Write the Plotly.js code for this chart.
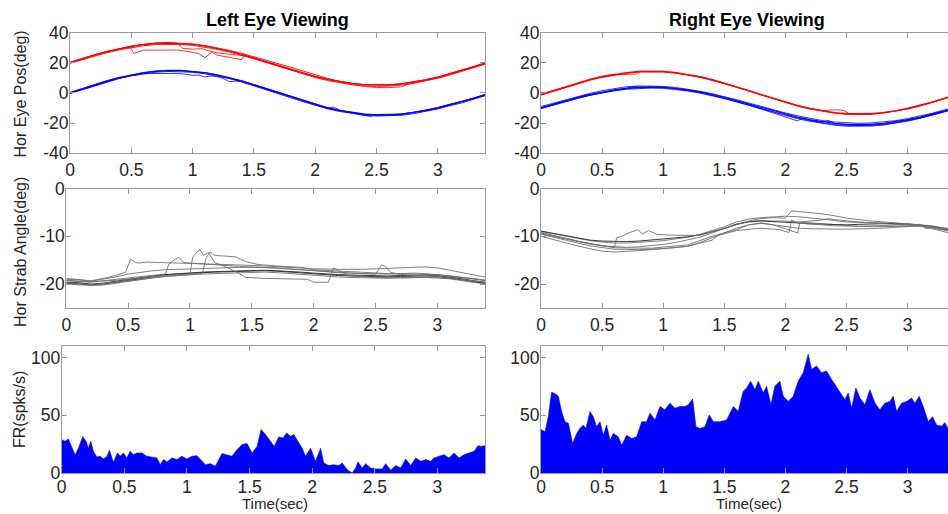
<!DOCTYPE html>
<html><head><meta charset="utf-8">
<script src="https://cdn.plot.ly/plotly-3.0.1.min.js"></script>
<style>html,body{margin:0;padding:0;overflow:hidden;background:#fff}#chart{width:960px;height:514px}</style>
</head><body><div id="chart"></div><script>
// ---------------- data ----------------
const T = [0,0.1,0.2,0.3,0.4,0.5,0.6,0.7,0.8,0.9,1.0,1.1,1.2,1.3,1.4,1.5,1.6,1.7,1.8,1.9,2.0,2.1,2.2,2.3,2.4,2.5,2.6,2.7,2.8,2.9,3.0,3.1,3.2,3.3,3.4];

const xTickVals = [0,0.5,1,1.5,2,2.5,3];
const xTickText = ['0','0.5','1','1.5','2','2.5','3'];
const posTickVals = [-40,-20,0,20,40];
const posTickText = ['-40','-20','0','20','40'];
const strabTickVals = [-20,-10,0];
const strabTickText = ['-20','-10','0'];
const frTickVals = [0,50,100];
const frTickText = ['0','50','100'];

const panelTitles = ['Left Eye Viewing','Right Eye Viewing'];
const yTitles = ['Hor Eye Pos(deg)','Hor Strab Angle(deg)','FR(spks/s)'];
const xTitle = 'Time(sec)';

// Top-left: eye position, left eye viewing
const TL_red1 = [20.0,22.6,25.0,27.2,29.1,30.7,31.9,32.7,33.0,32.8,32.2,31.0,29.5,27.7,25.5,23.1,20.6,18.0,15.4,13.0,10.8,8.9,7.3,6.1,5.3,5.0,5.2,5.8,7.0,8.5,10.3,12.5,14.9,17.4,20.0];
const TL_red2 = [19.6,22.0,24.4,26.6,28.5,30.0,31.2,32.0,32.3,32.1,31.5,30.4,28.9,27.1,25.0,22.6,20.1,17.5,14.9,12.5,10.2,8.2,6.6,5.4,4.6,4.3,4.5,5.1,6.3,7.8,9.7,11.9,14.3,16.8,19.4];
const TL_red3 = [20.3,22.9,25.3,27.5,29.4,31.0,32.2,33.0,33.3,33.1,32.5,31.4,30.0,28.2,26.2,24.0,21.8,19.5,17.0,14.5,12.0,9.6,7.6,6.3,5.5,5.2,5.4,6.0,7.2,8.7,10.5,12.7,15.1,17.6,20.2];
const TL_red4_t = [0,0.1,0.2,0.3,0.4,0.49,0.52,0.6,0.7,0.8,0.87,0.95,1.0,1.05,1.1,1.16,1.2,1.3,1.4,1.42,1.5,1.6,1.7,1.8,1.9,2.0,2.1,2.2,2.3,2.4,2.5,2.6,2.7,2.8,2.9,3.0,3.1,3.2,3.3,3.4];
const TL_red4 = [19.9,22.5,24.9,27.1,29.0,30.6,26.2,28.3,28.3,28.4,28.4,27.6,27.0,26.0,23.3,27.0,25.0,23.6,22.0,25.0,22.9,20.4,17.8,15.2,12.8,10.6,8.7,7.1,5.9,4.2,3.6,3.5,4.0,6.8,8.3,10.1,12.3,14.7,17.2,19.8];
const TL_red5_t = [0,0.1,0.2,0.3,0.4,0.5,0.6,0.7,0.8,0.87,0.92,1.0,1.08,1.12,1.2,1.3,1.38,1.45,1.5,1.6,1.7,1.8,1.9,2.0,2.1,2.2,2.3,2.4,2.5,2.6,2.7,2.8,2.9,3.0,3.1,3.2,3.3,3.4];
const TL_red5 = [20.2,22.8,25.2,27.4,29.3,30.9,32.1,32.9,33.2,33.1,29.5,29.0,29.3,28.0,26.5,25.8,25.0,24.3,23.3,20.8,18.2,15.6,13.2,11.0,9.1,7.5,6.3,5.5,5.2,5.4,6.0,7.2,8.7,10.5,12.7,15.1,17.6,20.2];
const TL_blue1 = [0,2.7,5.3,7.8,10.0,11.8,13.2,14.2,14.7,14.7,14.2,13.2,11.8,10.0,7.8,5.3,2.7,0,-2.7,-5.3,-7.8,-10.0,-11.8,-13.2,-14.2,-14.7,-14.7,-14.2,-13.2,-11.8,-10.0,-7.8,-6.0,-3.5,-1.0];
const TL_blue2 = [-0.4,2.2,4.8,7.3,9.5,11.3,12.7,13.7,14.2,14.2,13.7,12.7,11.3,9.5,7.3,4.8,2.2,-0.5,-3.2,-5.8,-8.3,-10.5,-12.3,-13.8,-14.8,-15.3,-15.3,-14.8,-13.8,-12.4,-10.6,-8.4,-6.5,-4.0,-1.5];
const TL_blue3 = [0.3,3.0,5.6,8.1,10.3,12.1,13.5,14.5,15.0,15.0,14.5,13.5,12.1,10.3,8.1,5.6,3.0,0.3,-2.4,-5.0,-7.5,-9.7,-11.5,-12.9,-13.9,-14.4,-14.4,-13.9,-12.9,-11.5,-9.7,-7.5,-5.7,-3.2,-0.7];
const TL_blue4_t = [0,0.1,0.2,0.3,0.4,0.5,0.52,0.6,0.7,0.8,0.87,0.95,1.0,1.05,1.1,1.15,1.2,1.25,1.3,1.35,1.4,1.5,1.6,1.7,1.8,1.9,2.0,2.1,2.15,2.2,2.3,2.4,2.45,2.5,2.6,2.7,2.8,2.9,3.0,3.1,3.2,3.3,3.4];
const TL_blue4 = [-0.2,2.4,5.0,7.5,9.7,11.5,11.6,12.8,12.9,12.9,12.9,12.3,11.6,11.8,10.6,11.2,10.8,9.5,7.4,7.8,7.5,5.0,2.4,-0.3,-3.0,-5.6,-8.1,-10.3,-9.4,-11.5,-13.3,-15.1,-15.6,-14.5,-14.6,-14.0,-13.0,-11.6,-9.8,-7.6,-5.8,-3.3,-0.8];

// Top-right: eye position, right eye viewing
const TR_red1 = [-1.1,1.5,4.1,6.5,8.8,10.7,12.3,13.4,14.2,14.4,14.2,13.4,12.3,10.7,8.8,6.5,4.1,1.5,-1.1,-3.7,-6.1,-8.4,-10.3,-11.9,-13.0,-13.8,-14.0,-13.8,-13.0,-11.9,-10.3,-8.4,-6.1,-3.7,-1.1];
const TR_red2 = [-1.5,1.1,3.7,6.1,8.4,10.3,11.9,13.0,13.8,14.0,13.8,13.0,11.9,10.3,8.4,6.1,3.7,1.1,-1.5,-4.1,-6.5,-8.8,-10.7,-12.3,-13.4,-14.2,-14.4,-14.2,-13.4,-12.3,-10.7,-8.8,-6.5,-4.1,-1.5];
const TR_red3_t = [0,0.1,0.2,0.3,0.4,0.5,0.6,0.63,0.7,0.78,0.82,0.9,1.0,1.1,1.2,1.3,1.4,1.5,1.6,1.7,1.8,1.9,2.0,2.1,2.2,2.3,2.36,2.42,2.48,2.52,2.6,2.7,2.8,2.9,3.0,3.1,3.2,3.3,3.4];
const TR_red3 = [-0.8,1.8,4.4,6.8,9.1,11.0,12.5,12.0,12.2,12.5,14.3,14.5,14.3,13.5,12.4,10.8,8.9,6.6,4.2,1.6,-1.0,-3.6,-6.0,-8.3,-10.2,-11.8,-11.4,-11.2,-11.6,-13.7,-14.0,-13.8,-13.0,-11.9,-10.3,-8.4,-6.1,-3.7,-1.0];
const TR_blue1 = [-9.7,-7.3,-5.1,-2.9,-1.0,0.7,2.1,3.2,3.8,4.0,3.8,3.2,2.1,0.7,-1.0,-2.9,-5.1,-7.3,-9.7,-11.9,-14.1,-16.0,-17.7,-19.1,-20.2,-20.8,-21.0,-20.8,-20.2,-19.1,-17.7,-16.0,-14.1,-11.9,-9.7];
const TR_blue2 = [-9.0,-6.7,-4.5,-2.3,-0.3,1.5,3.0,4.1,4.6,4.6,4.3,3.6,2.5,1.1,-0.5,-2.4,-4.5,-6.7,-9.0,-11.2,-13.3,-15.2,-16.9,-18.3,-19.3,-19.9,-20.1,-19.9,-19.4,-18.4,-17.0,-15.4,-13.5,-11.3,-9.0];
const TR_blue3 = [-10.4,-8.0,-5.8,-3.6,-1.7,0.0,1.4,2.4,3.0,3.2,3.0,2.4,1.3,-0.1,-1.8,-3.8,-6.0,-8.3,-10.7,-13.0,-15.2,-17.1,-18.8,-20.3,-21.4,-22.1,-22.3,-22.0,-21.3,-20.2,-18.7,-16.9,-14.9,-12.6,-10.3];
const TR_blue4_t = [0,0.1,0.2,0.3,0.4,0.5,0.6,0.7,0.75,0.8,0.9,1.0,1.1,1.2,1.3,1.4,1.5,1.6,1.7,1.8,1.9,2.0,2.1,2.14,2.2,2.3,2.35,2.4,2.5,2.6,2.7,2.8,2.9,3.0,3.1,3.2,3.3,3.4];
const TR_blue4 = [-9.9,-7.6,-5.4,-3.3,-1.4,0.3,1.7,2.9,4.2,4.0,3.9,3.6,2.8,1.7,0.2,-1.6,-3.5,-5.7,-8.0,-10.6,-13.3,-15.8,-18.6,-16.5,-18.0,-19.4,-18.2,-20.0,-21.2,-21.6,-21.4,-20.7,-19.6,-18.2,-16.6,-14.7,-12.5,-10.2];
const TR_blue5 = [-10.2,-7.9,-5.6,-3.5,-1.5,0.2,1.7,2.8,3.4,3.6,3.5,2.9,1.8,0.3,-1.4,-3.4,-5.6,-7.9,-10.3,-12.6,-14.8,-16.7,-18.4,-19.8,-20.9,-21.6,-21.8,-21.6,-21.0,-19.9,-18.4,-16.6,-14.6,-12.4,-10.1];

// Middle-left: strabismus angle, left eye viewing
const ML1 = [-20.0,-20.1,-20.3,-20.2,-19.8,-19.4,-19.0,-18.7,-18.4,-18.2,-18.0,-17.9,-17.8,-17.7,-17.6,-17.5,-17.5,-17.6,-17.8,-18.0,-18.2,-18.4,-18.5,-18.6,-18.7,-18.8,-18.8,-18.7,-18.6,-18.6,-18.7,-18.9,-19.3,-19.6,-20.0];
const ML2 = [-19.6,-19.7,-20.0,-19.8,-19.4,-19.0,-18.6,-18.3,-18.0,-17.8,-17.6,-17.5,-17.4,-17.3,-17.2,-17.1,-17.1,-17.2,-17.3,-17.5,-17.7,-17.9,-18.0,-18.1,-18.2,-18.3,-18.3,-18.2,-18.1,-18.1,-18.2,-18.5,-18.9,-19.3,-19.7];
const ML3 = [-19.0,-19.1,-19.4,-19.0,-18.5,-17.9,-17.5,-17.2,-17.0,-16.9,-16.8,-16.8,-16.7,-16.6,-16.5,-16.5,-16.5,-16.6,-16.8,-17.0,-17.2,-17.4,-17.6,-17.7,-17.8,-17.9,-17.9,-17.8,-17.7,-17.8,-18.0,-18.3,-18.6,-19.0,-19.3];
const ML4 = [-19.8,-19.9,-20.1,-20.0,-19.6,-19.2,-18.8,-18.4,-18.1,-17.9,-17.7,-17.6,-17.5,-17.4,-17.3,-17.2,-17.2,-17.3,-17.5,-17.7,-17.9,-18.1,-18.2,-18.3,-18.4,-18.5,-18.5,-18.4,-18.3,-18.3,-18.4,-18.7,-19.1,-19.5,-19.9];
const MLG1_t = [0,0.1,0.2,0.3,0.4,0.48,0.52,0.55,0.58,0.65,0.8,1.0,1.2,1.4,1.6,1.8,2.0,2.2,2.4,2.6,2.8,2.9,3.0,3.2,3.4];
const MLG1 = [-18.8,-19.0,-19.3,-18.8,-18.2,-17.5,-14.8,-15.3,-15.6,-15.4,-15.5,-15.6,-15.8,-16.0,-16.2,-16.5,-16.8,-16.9,-16.9,-16.7,-16.4,-16.4,-16.6,-17.6,-18.6];
const MLG2_t = [0,0.2,0.4,0.6,0.8,0.83,0.88,0.91,0.95,1.0,1.1,1.2,1.4,1.6,1.8,2.0,2.15,2.2,2.4,2.5,2.55,2.58,2.62,2.7,2.9,3.1,3.3,3.4];
const MLG2 = [-19.3,-19.6,-19.0,-18.4,-17.9,-15.8,-14.8,-14.4,-15.5,-15.6,-15.8,-16.0,-16.3,-16.5,-16.8,-17.2,-17.5,-17.6,-17.8,-17.9,-16.0,-16.3,-17.5,-18.0,-18.3,-18.4,-18.9,-19.3];
const MLG3_t = [0,0.2,0.4,0.6,0.8,1.0,1.02,1.05,1.08,1.11,1.15,1.2,1.3,1.4,1.45,1.6,1.8,1.95,2.0,2.12,2.16,2.2,2.3,2.5,2.7,2.9,3.1,3.3,3.4];
const MLG3 = [-19.8,-20.1,-19.6,-19.0,-18.4,-18.0,-14.5,-13.5,-12.7,-14.0,-13.4,-15.5,-16.5,-17.8,-18.6,-18.8,-18.9,-19.0,-19.6,-19.6,-16.6,-17.2,-18.3,-18.6,-18.7,-18.6,-18.8,-19.3,-19.6];
const MLG4_t = [0,0.2,0.4,0.6,0.8,1.0,1.1,1.13,1.16,1.2,1.3,1.37,1.45,1.55,1.7,1.9,2.0,2.2,2.4,2.6,2.8,3.0,3.2,3.4];
const MLG4 = [-19.2,-19.5,-19.2,-18.7,-18.2,-17.9,-17.8,-14.6,-13.3,-14.0,-14.2,-14.3,-15.3,-15.9,-16.2,-16.5,-17.0,-17.3,-17.6,-17.8,-17.9,-18.0,-18.6,-19.2];

// Middle-right: strabismus angle, right eye viewing
const MR1 = [-9.0,-9.5,-10.0,-10.5,-10.9,-11.2,-11.4,-11.4,-11.3,-11.1,-10.9,-10.6,-10.2,-9.6,-8.8,-8.0,-7.0,-6.4,-6.1,-6.0,-5.8,-5.9,-6.1,-6.4,-6.7,-7.0,-7.1,-7.1,-7.2,-7.4,-7.6,-7.8,-8.1,-8.5,-8.9];
const MR2 = [-9.3,-9.9,-10.5,-11.1,-11.6,-12.0,-12.2,-12.3,-12.2,-12.0,-11.7,-11.3,-10.8,-10.2,-9.3,-8.4,-7.4,-6.9,-6.7,-6.8,-6.8,-7.0,-7.2,-7.4,-7.6,-7.8,-7.9,-8.0,-8.0,-8.0,-7.9,-7.8,-8.2,-8.7,-9.2];
const MR3 = [-10.0,-10.7,-11.4,-12.0,-12.6,-13.1,-13.3,-13.2,-13.0,-12.8,-12.6,-12.4,-12.1,-11.3,-10.3,-9.3,-8.3,-7.6,-7.3,-7.6,-8.0,-8.3,-8.4,-8.5,-8.5,-8.5,-8.5,-8.4,-8.3,-8.1,-7.9,-7.8,-8.4,-9.1,-9.7];
const MR4 = [-8.9,-9.4,-9.9,-10.4,-10.8,-11.0,-11.1,-11.1,-11.0,-10.8,-10.6,-10.4,-10.1,-9.7,-9.1,-8.4,-7.5,-7.0,-6.8,-6.9,-7.0,-7.2,-7.4,-7.5,-7.6,-7.6,-7.5,-7.4,-7.3,-7.3,-7.4,-7.6,-7.9,-8.3,-8.6];
const MRG1_t = [0,0.2,0.4,0.55,0.6,0.62,0.66,0.7,0.75,0.79,0.83,0.88,0.95,1.1,1.3,1.4,1.5,1.6,1.7,1.8,1.9,2.0,2.05,2.1,2.2,2.3,2.4,2.5,2.7,2.9,3.1,3.2,3.4];
const MRG1 = [-9.5,-10.6,-11.6,-12.1,-12.3,-10.3,-10.0,-9.5,-9.0,-8.6,-9.5,-8.8,-9.6,-9.8,-9.8,-9.0,-8.3,-7.6,-6.8,-6.3,-6.1,-6.2,-4.7,-4.8,-5.0,-5.3,-5.7,-6.2,-6.8,-7.2,-7.5,-7.8,-8.8];
const MRG2_t = [0,0.2,0.4,0.6,0.8,1.0,1.2,1.4,1.45,1.5,1.6,1.8,1.95,2.03,2.05,2.1,2.2,2.4,2.6,2.8,3.0,3.1,3.15,3.2,3.4];
const MRG2 = [-9.6,-10.8,-12.0,-12.7,-12.8,-12.6,-12.1,-10.8,-9.8,-9.5,-8.8,-8.3,-8.6,-9.2,-6.6,-7.2,-7.4,-7.8,-7.9,-7.8,-7.6,-7.5,-8.4,-8.2,-9.0];
const MRG3_t = [0,0.3,0.6,0.9,1.2,1.4,1.6,1.7,1.8,1.9,2.0,2.1,2.12,2.2,2.3,2.35,2.4,2.6,2.8,3.0,3.1,3.2,3.4];
const MRG3 = [-9.2,-11.0,-12.4,-12.5,-11.8,-10.0,-8.6,-7.6,-7.2,-7.6,-8.4,-9.3,-7.0,-6.8,-6.6,-6.3,-6.5,-7.0,-7.3,-7.6,-7.8,-8.0,-9.3];

// Bottom: firing rate
const FRL_t = [0,0.027,0.053,0.08,0.107,0.133,0.168,0.195,0.213,0.232,0.253,0.28,0.307,0.333,0.36,0.381,0.413,0.445,0.467,0.493,0.52,0.547,0.573,0.6,0.64,0.68,0.72,0.76,0.787,0.813,0.84,0.88,0.92,0.96,1.0,1.04,1.08,1.12,1.147,1.187,1.227,1.28,1.32,1.36,1.4,1.44,1.48,1.52,1.56,1.592,1.627,1.667,1.698,1.733,1.768,1.795,1.827,1.853,1.893,1.92,1.947,1.987,2.027,2.067,2.093,2.133,2.173,2.213,2.24,2.28,2.32,2.347,2.365,2.4,2.427,2.467,2.507,2.56,2.587,2.627,2.667,2.707,2.747,2.787,2.827,2.867,2.907,2.947,2.973,3.013,3.053,3.093,3.133,3.173,3.213,3.253,3.293,3.325,3.347,3.4];
const FRL = [28.9,27.5,29.5,23,15.6,21.4,31.5,27.5,21.4,27.5,18.8,13.9,14.5,12.4,14,19.7,9.2,17.3,14.5,17.3,13,18.8,15.9,17.3,17.3,14.5,13.6,13,7.2,11.6,9.6,13,11.6,14.5,12.1,14.5,15,10.1,7.2,8.1,5.8,16.8,15.9,14.5,20.2,24.6,25.5,17.3,23,37.6,33.3,27.5,23,31.2,30.4,34.7,31.8,33.3,26,21.4,14.5,21.4,10.1,21.4,8.7,6.4,7.2,6.4,8.7,2.9,0,4.3,9.6,4.3,8.1,4.3,3.5,3.5,8.1,2.3,6.4,4.3,12.1,6.4,13,10.1,11.6,10.1,13,14.5,15.9,13,17.3,13,15.9,17.3,18.8,23.7,23,24];
const FRR_t = [0,0.033,0.06,0.087,0.115,0.142,0.169,0.196,0.224,0.259,0.292,0.319,0.346,0.368,0.401,0.428,0.455,0.483,0.51,0.537,0.565,0.592,0.633,0.66,0.701,0.742,0.783,0.824,0.864,0.892,0.933,0.974,1.014,1.055,1.096,1.137,1.178,1.205,1.241,1.268,1.301,1.342,1.377,1.41,1.464,1.519,1.574,1.614,1.655,1.683,1.715,1.751,1.778,1.819,1.846,1.882,1.914,1.955,1.983,2.023,2.064,2.105,2.146,2.187,2.214,2.255,2.296,2.337,2.378,2.405,2.446,2.487,2.514,2.542,2.577,2.61,2.651,2.692,2.733,2.773,2.814,2.855,2.883,2.91,2.951,2.992,3.032,3.06,3.095,3.128,3.169,3.204,3.237,3.278,3.305,3.33,3.373,3.4];
const FRR = [37.7,35.7,48.8,69.9,68.7,66.4,53.2,44.4,43,25.4,34.2,38.6,41.5,38.6,53.2,48.8,40,44.4,32.7,41.5,28.4,34.2,31.3,24,32.7,29.8,31.3,44.4,44.4,51.8,45.9,57.6,54.7,60.5,56.1,57.6,57.6,59.1,64,40,38.6,40,50.3,44.4,44.4,45.9,57.6,53.2,70.8,73.7,79.5,72.2,79.5,69.3,75.1,59.1,75.1,79.5,66.4,62,66.4,79.5,86.8,102.9,89.8,92.7,86.8,88.3,81,76.6,70.8,63.5,69.3,56.1,73.7,64.9,59.1,72.2,60.5,54.7,60.5,62,66.4,53.2,60.5,62,64.9,60.5,66.4,57.6,44.4,48.8,41.5,40.6,43.6,38.6,41,40];

// ---------------- drawing ----------------
const W = 960, H = 514;
const fx = p => p / W;
const fy = p => (H - p) / H;
const FONT = 'Arial, "Liberation Sans", Helvetica, sans-serif';
const RED = '#ff0000', BLUE = '#0000ff', GRAY = '#707070', DARK = '#3a3a3a';

const traces = [];
function line(x, y, n, color, width) {
  const s = n === 1 ? '' : String(n);
  traces.push({type:'scatter', mode:'lines', x:x, y:y, xaxis:'x'+s, yaxis:'y'+s,
    line:{color:color, width:width}, hoverinfo:'skip', showlegend:false});
}
function area(x, y, n) {
  const s = n === 1 ? '' : String(n);
  traces.push({type:'scatter', mode:'lines', x:x, y:y, xaxis:'x'+s, yaxis:'y'+s,
    fill:'tozeroy', fillcolor:BLUE, line:{color:BLUE, width:0.6}, hoverinfo:'skip', showlegend:false});
}

// top-left
line(TL_red4_t, TL_red4, 1, RED, 0.8);
line(TL_red5_t, TL_red5, 1, RED, 0.8);
line(T, TL_red2, 1, RED, 0.9);
line(T, TL_red3, 1, RED, 0.9);
line(T, TL_red1, 1, RED, 1.3);
line(TL_blue4_t, TL_blue4, 1, BLUE, 0.8);
line(T, TL_blue2, 1, BLUE, 0.9);
line(T, TL_blue3, 1, BLUE, 0.9);
line(T, TL_blue1, 1, BLUE, 1.3);
// top-right
line(TR_red3_t, TR_red3, 2, RED, 0.8);
line(T, TR_red2, 2, RED, 1.0);
line(T, TR_red1, 2, RED, 1.3);
line(TR_blue4_t, TR_blue4, 2, BLUE, 0.8);
line(T, TR_blue2, 2, BLUE, 0.8);
line(T, TR_blue3, 2, BLUE, 0.8);
line(T, TR_blue5, 2, BLUE, 0.8);
line(T, TR_blue1, 2, BLUE, 1.2);
// middle-left
[ML1, ML3].forEach(v => line(T, v, 3, GRAY, 0.9));
[ML2, ML4].forEach(v => line(T, v, 3, DARK, 1.0));
line(MLG1_t, MLG1, 3, GRAY, 0.9);
line(MLG2_t, MLG2, 3, GRAY, 0.9);
line(MLG3_t, MLG3, 3, GRAY, 0.9);
line(MLG4_t, MLG4, 3, GRAY, 0.9);
// middle-right
[MR1, MR2, MR3].forEach(v => line(T, v, 4, GRAY, 0.9));
line(T, MR4, 4, DARK, 1.0);
line(MRG1_t, MRG1, 4, GRAY, 0.9);
line(MRG2_t, MRG2, 4, GRAY, 0.9);
line(MRG3_t, MRG3, 4, GRAY, 0.9);
// bottom
area(FRL_t, FRL, 5);
area(FRR_t, FRR, 6);

const AXC = '#9a9a9a';
const tickFont = {family:FONT, size:17.5, color:'#262626'};
function ax(domain, range, anchor, tv, tt, standoff) {
  return {domain:domain, range:range, anchor:anchor, showline:true, mirror:'ticks',
    linecolor:AXC, linewidth:1, ticks:'inside', ticklen:5, tickwidth:1, tickcolor:AXC,
    tickmode:'array', tickvals:tv, ticktext:tt, tickfont:tickFont, ticklabelstandoff:standoff,
    showgrid:false, zeroline:false, fixedrange:true};
}
const leftTopD = [fx(70), fx(485)], leftMidD = [fx(66.3), fx(485)], leftBotD = [fx(61.7), fx(485)];
const rightD = [fx(541), fx(955)];
const topD = [fy(153.3), fy(32.5)], midD = [fy(308), fy(188.5)], botD = [fy(473), fy(346)];
const XS = 1, XB = -2, YS = -3;

const layout = {
  width:W, height:H, margin:{l:0, r:0, t:0, b:0}, paper_bgcolor:'#fff', plot_bgcolor:'#fff',
  showlegend:false, hovermode:false,
  xaxis: ax(leftTopD, [0,3.385], 'y', xTickVals, xTickText, XS),
  yaxis: ax(topD, [-40,40], 'x', posTickVals, posTickText, YS),
  xaxis2: ax(rightD, [0,3.388], 'y2', xTickVals, xTickText, XS),
  yaxis2: ax(topD, [-40,40], 'x2', posTickVals, posTickText, YS),
  xaxis3: ax(leftMidD, [0,3.385], 'y3', xTickVals, xTickText, XS),
  yaxis3: ax(midD, [-25,0], 'x3', strabTickVals, strabTickText, YS),
  xaxis4: ax(rightD, [0,3.388], 'y4', xTickVals, xTickText, XS),
  yaxis4: ax(midD, [-25,0], 'x4', strabTickVals, strabTickText, YS),
  xaxis5: ax(leftBotD, [0,3.38], 'y5', xTickVals, xTickText, XB),
  yaxis5: ax(botD, [0,110], 'x5', frTickVals, frTickText, YS),
  xaxis6: ax(rightD, [0,3.388], 'y6', xTickVals, xTickText, XB),
  yaxis6: ax(botD, [0,110], 'x6', frTickVals, frTickText, YS),
  annotations: [
    {text:'<b>'+panelTitles[0]+'</b>', x:fx(277), y:fy(20.5), xref:'paper', yref:'paper', xanchor:'center', yanchor:'middle', showarrow:false, font:{family:FONT, size:18, color:'#000'}},
    {text:'<b>'+panelTitles[1]+'</b>', x:fx(747), y:fy(20.5), xref:'paper', yref:'paper', xanchor:'center', yanchor:'middle', showarrow:false, font:{family:FONT, size:18, color:'#000'}},
    {text:yTitles[0], x:fx(20), y:fy(94.5), xref:'paper', yref:'paper', xanchor:'center', yanchor:'middle', textangle:-90, showarrow:false, font:{family:FONT, size:16, color:'#262626'}},
    {text:yTitles[1], x:fx(20), y:fy(252), xref:'paper', yref:'paper', xanchor:'center', yanchor:'middle', textangle:-90, showarrow:false, font:{family:FONT, size:16, color:'#262626'}},
    {text:yTitles[2], x:fx(19), y:fy(410), xref:'paper', yref:'paper', xanchor:'center', yanchor:'middle', textangle:-90, showarrow:false, font:{family:FONT, size:16, color:'#262626'}},
    {text:xTitle, x:fx(274.5), y:fy(514), xref:'paper', yref:'paper', xanchor:'center', yanchor:'bottom', showarrow:false, font:{family:FONT, size:15, color:'#262626'}},
    {text:xTitle, x:fx(748.5), y:fy(514), xref:'paper', yref:'paper', xanchor:'center', yanchor:'bottom', showarrow:false, font:{family:FONT, size:15, color:'#262626'}}
  ]
};
Plotly.newPlot('chart', traces, layout, {staticPlot:true, displayModeBar:false, responsive:false});
</script></body></html>
